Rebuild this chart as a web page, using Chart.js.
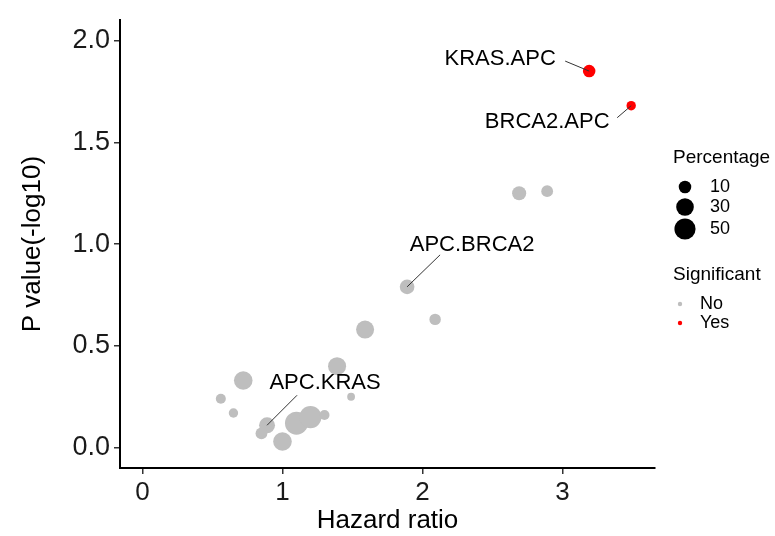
<!DOCTYPE html>
<html>
<head>
<meta charset="utf-8">
<script src="https://cdn.jsdelivr.net/npm/chart.js@4/dist/chart.umd.min.js"></script>
<style>
	html, body { margin: 0; padding: 0; background: #ffffff; }
	#box { width: 775px; height: 536px; }
</style>
</head>
<body>
<div id="box"><canvas id="volcano" width="775" height="536"></canvas></div>
<script>
//
// Values read off the picture : one entry per gene pair.
//
const pair_names = [ "KRAS.APC", "BRCA2.APC", "", "", "APC.BRCA2", "", "", "", "", "", "", "", "APC.KRAS", "", "", "", "", "" ];
const hazard_ratio = [ 3.19, 3.49, 2.69, 2.89, 1.89, 2.09, 1.59, 1.39, 1.49, 0.72, 0.56, 0.65, 0.89, 0.85, 1.00, 1.10, 1.20, 1.30 ];
const p_value = [ 1.85, 1.68, 1.25, 1.26, 0.79, 0.63, 0.58, 0.40, 0.25, 0.33, 0.24, 0.17, 0.11, 0.07, 0.03, 0.12, 0.15, 0.16 ];
const percentage = [ 10, 3, 15, 8, 17, 7, 32, 32, 1, 35, 4, 3, 22, 8, 35, 62, 56, 4 ];
const significant = [ "Yes", "Yes", "No", "No", "No", "No", "No", "No", "No", "No", "No", "No", "No", "No", "No", "No", "No", "No" ];

const x_ticks = [ 0, 1, 2, 3 ];
const y_ticks = [ 0, 0.5, 1.0, 1.5, 2.0 ];
const size_breaks = [ 10, 30, 50 ];
const sig_levels = [ "No", "Yes" ];

const FONT = "'Liberation Sans', Arial, sans-serif";
const colours = { No: "#bebebe", Yes: "#ff0000" };

// rayon du point selon le pourcentage
function size_of( p ) {
	return 2.8 + 1.1 * Math.sqrt( p );
}

function points_for( level ) {
	const pts = [];
	for ( let i = 0; i < hazard_ratio.length; i++ ) {
		if ( significant[ i ] === level ) {
			pts.push( { x: hazard_ratio[ i ], y: p_value[ i ], pct: percentage[ i ], name: pair_names[ i ] } );
		}
	}
	return pts;
}

// position du texte et bout du trait, par rapport au point
const label_place = {
	"KRAS.APC": { dx: -89, dy: -12, lx: -24, ly: -10 },
	"BRCA2.APC": { dx: -84, dy: 16, lx: -14, ly: 12 },
	"APC.BRCA2": { dx: 65, dy: -42, lx: 33, ly: -32 },
	"APC.KRAS": { dx: 58, dy: -42, lx: 30, ly: -30 }
};

const pair_labels = {
	id: "pair_labels",
	afterDatasetsDraw( chart ) {
		const ctx = chart.ctx;
		const xs = chart.scales.x;
		const ys = chart.scales.y;
		ctx.save();
		ctx.font = "22px " + FONT;
		ctx.textAlign = "center";
		ctx.textBaseline = "middle";
		for ( let i = 0; i < pair_names.length; i++ ) {
			const place = label_place[ pair_names[ i ] ];
			if ( !place ) continue;
			const px = xs.getPixelForValue( hazard_ratio[ i ] );
			const py = ys.getPixelForValue( p_value[ i ] );
			ctx.strokeStyle = "#333333";
			ctx.lineWidth = 1;
			ctx.beginPath();
			ctx.moveTo( px, py );
			ctx.lineTo( px + place.lx, py + place.ly );
			ctx.stroke();
			ctx.fillStyle = "#000000";
			ctx.fillText( pair_names[ i ], px + place.dx, py + place.dy );
		}
		ctx.restore();
	}
};

const side_legend = {
	id: "side_legend",
	afterDraw( chart ) {
		const ctx = chart.ctx;
		const left = chart.chartArea.right + 18;
		ctx.save();
		ctx.textAlign = "left";
		ctx.textBaseline = "middle";
		ctx.fillStyle = "#000000";
		ctx.font = "19px " + FONT;
		ctx.fillText( "Percentage", left, 158 );
		const rows = [ 187, 207, 229 ];
		ctx.font = "18px " + FONT;
		size_breaks.forEach( ( b, k ) => {
			ctx.fillStyle = "#000000";
			ctx.beginPath();
			ctx.arc( left + 12, rows[ k ], size_of( b ), 0, Math.PI * 2 );
			ctx.fill();
			ctx.fillText( String( b ), left + 37, rows[ k ] );
		} );
		ctx.font = "19px " + FONT;
		ctx.fillText( "Significant", left, 275 );
		const sig_rows = [ 304, 323 ];
		ctx.font = "18px " + FONT;
		sig_levels.forEach( ( s, k ) => {
			ctx.fillStyle = colours[ s ];
			ctx.beginPath();
			ctx.arc( left + 7, sig_rows[ k ], 2.2, 0, Math.PI * 2 );
			ctx.fill();
			ctx.fillStyle = "#000000";
			ctx.fillText( s, left + 27, sig_rows[ k ] );
		} );
		ctx.restore();
	}
};

const volcano = document.getElementById( "volcano" );

new Chart( volcano,
	{
		type: "scatter",
		data: {
			datasets: sig_levels.map( s => ( {
				label: s,
				data: points_for( s ),
				backgroundColor: colours[ s ],
				borderWidth: 0,
				pointRadius: ctx => size_of( ctx.raw.pct ),
				pointHoverRadius: ctx => size_of( ctx.raw.pct )
			} ) )
		},
		plugins: [ pair_labels, side_legend ],
		options: {
			responsive: false,
			animation: false,
			layout: {
				padding: { top: 10, right: 120, left: 0, bottom: 0 }
			},
			plugins: {
				legend: { display: false },
				tooltip: { enabled: false }
			},
			scales: {
				x: {
					type: "linear",
					min: -0.16,
					max: 3.66,
					afterFit: scale => { scale.height = 68; },
					afterBuildTicks: scale => { scale.ticks = x_ticks.map( v => ( { value: v } ) ); },
					border: { display: true, color: "#000000", width: 2 },
					grid: {
						drawOnChartArea: false,
						drawTicks: true,
						tickLength: 6,
						color: "#333333",
						lineWidth: 1.5
					},
					ticks: {
						color: "#1a1a1a",
						padding: 3,
						font: { size: 26, family: FONT },
						callback: v => String( v )
					},
					title: {
						display: true,
						text: "Hazard ratio",
						color: "#000000",
						font: { size: 26, family: FONT },
						padding: { top: 0, bottom: 0 }
					}
				},
				y: {
					type: "linear",
					min: -0.1,
					max: 2.1,
					afterFit: scale => { scale.width = 120; },
					afterBuildTicks: scale => { scale.ticks = y_ticks.map( v => ( { value: v } ) ); },
					border: { display: true, color: "#000000", width: 2 },
					grid: {
						drawOnChartArea: false,
						drawTicks: true,
						tickLength: 6,
						color: "#333333",
						lineWidth: 1.5
					},
					ticks: {
						color: "#1a1a1a",
						padding: 4,
						font: { size: 27, family: FONT },
						callback: v => Number( v ).toFixed( 1 )
					},
					title: {
						display: true,
						text: "P value(-log10)",
						color: "#000000",
						font: { size: 26, family: FONT },
						padding: { top: 17, bottom: 0 }
					}
				}
			}
		}
	} );
</script>
</body>
</html>
